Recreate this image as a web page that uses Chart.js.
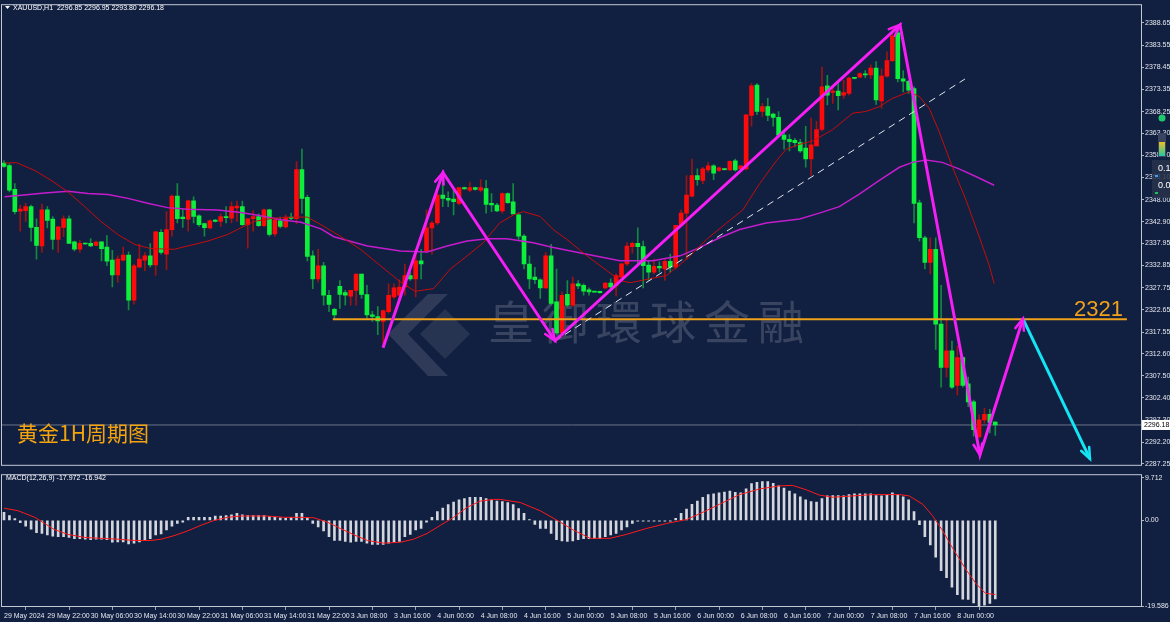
<!DOCTYPE html>
<html><head><meta charset="utf-8">
<script src="https://cdn.jsdelivr.net/npm/chart.js@4.4.1/dist/chart.umd.min.js"></script>
<style>
html,body{margin:0;padding:0;background:#111f41;width:1170px;height:622px;overflow:hidden;}
#c1{position:absolute;left:0;top:0;}
#c2{position:absolute;left:0;top:470px;}
</style></head><body>
<canvas id="c1" width="1170" height="470"></canvas>
<canvas id="c2" width="1170" height="152"></canvas>
<script>
// ---------- DATA ----------
const symbolName = 'XAUUSD,H1';
const candleOpen = [2356.44,2355.83,2350.40,2345.35,2345.49,2346.40,2341.64,2337.34,2345.65,2343.54,2338.86,2341.64,2343.61,2338.33,2336.59,2337.88,2337.95,2337.50,2338.33,2337.11,2334.10,2330.71,2334.10,2335.23,2324.89,2332.45,2334.10,2335.08,2332.97,2340.51,2335.46,2341.12,2348.81,2343.99,2343.54,2347.75,2344.29,2342.48,2341.50,2343.31,2343.00,2344.13,2343.77,2346.10,2346.40,2342.25,2343.61,2344.13,2342.02,2345.65,2340.15,2343.16,2341.73,2343.99,2343.61,2354.93,2348.52,2335.08,2329.80,2332.81,2326.02,2322.79,2328.06,2326.63,2325.80,2327.15,2330.86,2326.18,2321.50,2321.13,2320.00,2322.26,2325.66,2326.02,2327.92,2330.55,2329.80,2333.94,2336.21,2341.50,2342.64,2349.04,2348.30,2348.14,2347.16,2350.78,2350.17,2350.78,2350.17,2350.56,2347.16,2346.78,2345.42,2349.43,2347.53,2344.52,2339.60,2333.20,2330.19,2329.58,2327.70,2335.08,2324.52,2317.35,2326.25,2323.76,2328.67,2328.29,2327.24,2326.85,2326.93,2327.70,2328.83,2328.15,2330.19,2333.20,2337.20,2337.95,2337.20,2332.97,2331.32,2332.67,2332.06,2333.81,2332.45,2342.09,2344.90,2348.81,2353.57,2352.44,2354.86,2355.76,2354.70,2355.10,2354.86,2356.96,2355.08,2355.08,2367.38,2374.33,2368.28,2369.41,2367.67,2366.92,2362.85,2361.88,2361.65,2361.11,2359.84,2357.35,2360.36,2364.14,2374.17,2372.65,2372.97,2372.06,2372.42,2376.00,2376.20,2376.95,2376.72,2378.24,2370.71,2376.43,2379.98,2386.39,2375.82,2375.23,2373.56,2347.30,2339.24,2333.58,2336.59,2319.39,2309.43,2313.21,2305.29,2311.69,2305.65,2301.51,2293.43,2297.37,2298.64,2296.85];
const candleHigh = [2357.00,2356.22,2351.69,2346.78,2347.16,2346.78,2343.61,2347.00,2346.40,2344.13,2341.73,2344.29,2344.29,2338.47,2338.63,2338.00,2339.08,2338.47,2338.33,2339.76,2336.37,2335.08,2337.11,2335.98,2333.20,2337.72,2335.85,2337.88,2340.73,2341.12,2345.26,2349.04,2351.69,2345.81,2347.91,2348.66,2344.52,2342.64,2343.38,2343.40,2344.74,2346.40,2347.53,2347.68,2347.68,2343.61,2345.49,2344.74,2345.87,2345.81,2343.61,2343.99,2344.52,2344.90,2356.74,2359.61,2349.04,2336.21,2336.59,2333.58,2327.15,2323.01,2329.42,2327.15,2327.15,2330.86,2330.86,2328.29,2322.33,2323.40,2322.63,2328.67,2328.67,2329.58,2333.20,2331.32,2336.59,2336.59,2345.65,2343.00,2349.79,2353.57,2349.79,2350.17,2350.78,2350.90,2352.05,2350.90,2352.60,2352.44,2349.43,2347.16,2349.56,2349.56,2351.69,2344.90,2339.99,2335.08,2332.45,2329.80,2335.85,2337.72,2332.06,2326.79,2329.42,2330.19,2329.42,2328.67,2327.70,2326.90,2327.00,2329.00,2329.80,2330.93,2333.27,2338.11,2338.24,2341.50,2338.47,2333.94,2334.33,2333.72,2334.33,2335.46,2342.09,2345.65,2353.57,2357.35,2355.08,2355.45,2356.58,2356.06,2355.50,2355.20,2356.96,2357.35,2355.90,2367.53,2374.69,2374.69,2370.16,2371.29,2367.90,2368.28,2363.75,2363.00,2362.10,2361.88,2364.89,2366.77,2366.02,2378.47,2376.59,2373.56,2374.69,2375.46,2376.20,2376.10,2377.20,2377.72,2378.99,2379.76,2378.08,2382.02,2387.14,2387.91,2377.72,2375.46,2373.94,2347.91,2339.60,2339.24,2339.24,2328.29,2320.75,2315.47,2314.34,2311.85,2307.17,2301.89,2298.50,2299.99,2299.77,2296.95];
const candleLow = [2355.40,2349.79,2344.74,2340.73,2343.00,2338.47,2334.33,2335.85,2341.50,2336.59,2335.85,2339.47,2337.95,2336.21,2335.85,2337.70,2337.20,2337.34,2333.94,2332.81,2327.92,2329.05,2333.94,2322.63,2323.98,2332.45,2331.68,2332.45,2330.55,2335.46,2331.91,2339.60,2342.64,2341.64,2340.73,2342.64,2341.87,2339.60,2341.28,2342.90,2341.87,2342.64,2342.64,2343.00,2342.09,2336.82,2340.73,2341.87,2341.73,2339.60,2339.60,2341.50,2341.50,2343.38,2342.41,2344.90,2333.94,2327.54,2329.05,2323.76,2322.26,2320.75,2323.01,2323.76,2323.76,2323.76,2325.27,2320.75,2320.00,2316.97,2314.71,2321.88,2325.27,2325.27,2326.02,2329.42,2325.66,2329.80,2335.85,2335.46,2342.25,2346.40,2346.40,2344.52,2346.78,2350.40,2349.79,2350.20,2349.79,2344.90,2345.26,2345.26,2344.90,2347.16,2344.74,2338.86,2332.06,2327.54,2328.67,2325.27,2327.54,2323.76,2316.97,2316.61,2323.40,2323.40,2327.54,2326.02,2326.02,2326.70,2326.50,2327.50,2327.54,2325.88,2329.80,2332.81,2335.69,2332.81,2327.70,2329.42,2330.93,2331.32,2329.42,2331.32,2332.06,2341.87,2334.33,2348.66,2351.31,2351.69,2354.32,2352.60,2354.50,2354.80,2354.70,2354.54,2354.86,2354.86,2364.89,2367.53,2367.15,2366.18,2364.89,2362.62,2359.61,2359.23,2360.13,2358.85,2355.45,2353.57,2360.36,2363.75,2369.80,2370.16,2368.67,2371.29,2372.06,2375.80,2376.00,2376.05,2375.82,2369.93,2369.03,2376.20,2379.76,2375.07,2372.81,2372.42,2342.64,2338.47,2332.06,2330.93,2313.57,2304.90,2307.17,2304.52,2303.03,2304.90,2300.38,2293.58,2293.20,2296.59,2294.33,2293.80];
const candleClose = [2355.67,2350.17,2345.26,2345.81,2346.40,2341.64,2337.50,2345.65,2343.22,2338.86,2341.73,2343.61,2337.95,2336.59,2337.95,2337.80,2337.34,2338.24,2336.75,2333.87,2330.71,2334.33,2335.23,2324.89,2332.81,2334.33,2335.08,2332.97,2340.60,2335.85,2341.12,2348.81,2343.61,2343.61,2347.75,2344.13,2342.25,2341.57,2343.16,2343.00,2344.13,2343.84,2346.40,2346.55,2342.25,2343.61,2344.13,2342.02,2345.65,2339.99,2343.38,2341.87,2343.99,2343.68,2354.93,2348.30,2334.94,2329.80,2332.81,2326.02,2323.92,2321.50,2326.18,2326.02,2327.15,2330.86,2326.18,2321.50,2321.13,2320.14,2322.49,2326.02,2327.70,2327.92,2330.55,2329.80,2333.94,2333.20,2341.50,2342.64,2349.04,2348.30,2347.91,2347.53,2350.78,2350.47,2350.78,2350.33,2350.78,2346.93,2346.78,2345.42,2349.43,2347.30,2344.74,2339.60,2333.20,2329.80,2329.58,2327.70,2335.08,2324.14,2317.35,2326.02,2323.76,2328.67,2328.15,2326.93,2326.79,2326.75,2326.63,2328.83,2327.92,2330.55,2333.27,2337.34,2337.95,2337.20,2332.81,2331.32,2332.67,2332.29,2333.81,2332.45,2342.09,2344.90,2349.04,2353.57,2352.60,2355.08,2355.76,2354.09,2355.31,2354.90,2356.80,2354.86,2355.76,2367.53,2374.17,2368.28,2369.41,2367.38,2366.92,2362.85,2361.88,2361.33,2361.11,2359.23,2357.35,2360.59,2364.14,2373.94,2372.06,2372.97,2371.90,2372.65,2375.98,2375.90,2377.00,2376.72,2378.24,2370.93,2376.43,2379.98,2385.64,2375.82,2375.23,2373.19,2347.16,2339.24,2333.58,2336.59,2319.39,2309.43,2313.21,2304.90,2311.69,2305.29,2301.51,2295.10,2297.37,2298.64,2296.76,2296.18];
// moving averages: [bar index, price]
const maFast = [[0.1,2356.44],[2.3,2356.51],[5.7,2354.70],[8.7,2352.44],[11.8,2349.79],[14.9,2346.40],[17.9,2343.00],[21.0,2339.99],[24.1,2337.72],[27.1,2336.75],[31.4,2336.59],[33.9,2337.34],[37.6,2338.47],[41.3,2339.99],[43.7,2341.50],[46.2,2343.00],[49.9,2343.77],[53.5,2343.99],[56.0,2343.99],[58.5,2342.25],[62.1,2339.60],[65.8,2336.59],[69.5,2332.81],[73.2,2329.05],[75.9,2326.93],[79.3,2327.54],[82.4,2332.06],[85.5,2335.08],[88.5,2338.11],[91.5,2342.64],[94.1,2344.52],[95.9,2345.26],[99.0,2344.13],[101.4,2341.12],[103.9,2338.86],[107.6,2335.08],[111.3,2331.68],[113.7,2329.42],[115.6,2328.90],[119.2,2329.80],[122.3,2330.55],[126.0,2334.33],[129.7,2338.86],[133.4,2342.64],[136.4,2345.65],[139.5,2351.69],[142.6,2356.96],[144.4,2359.61],[146.9,2360.74],[149.3,2361.49],[153.0,2364.14],[156.7,2367.90],[159.1,2368.28],[161.6,2369.41],[164.0,2371.29],[167.1,2372.81],[169.0,2371.68],[170.8,2369.03],[172.6,2363.75],[175.1,2355.45],[177.6,2347.91],[180.0,2339.60],[181.9,2332.81],[182.8,2328.67]];
const maSlow = [[0.1,2348.66],[3.2,2349.04],[7.5,2349.56],[11.8,2349.95],[15.5,2349.43],[19.2,2349.20],[22.9,2348.30],[26.5,2347.16],[30.2,2346.17],[33.9,2345.81],[39.4,2345.65],[43.7,2345.04],[47.4,2344.29],[51.1,2343.38],[54.8,2342.82],[58.5,2341.28],[60.9,2339.47],[67.1,2337.34],[73.2,2336.21],[78.1,2335.98],[81.8,2337.34],[85.5,2338.47],[89.2,2339.01],[92.8,2339.01],[97.7,2338.11],[101.4,2336.98],[107.6,2335.46],[113.7,2333.94],[119.8,2333.94],[124.8,2335.08],[128.4,2336.98],[132.1,2339.24],[135.8,2341.12],[140.7,2342.64],[146.9,2343.54],[150.5,2344.90],[154.2,2346.40],[157.9,2349.27],[161.6,2352.44],[165.3,2355.45],[167.7,2356.58],[170.2,2357.12],[173.2,2356.58],[176.3,2355.09],[179.4,2353.34],[182.8,2351.31]];
// drawn analysis: zigzag arrows, projection, trend line, level
const zigzagPath = [[69.97,2313.96],[81.04,2354.25],[101.72,2315.54],[165.41,2388.20],[180.17,2289.29],[188.11,2320.6]];
const projectionPath = [[188.11,2320.6],[200.48,2288.38]];
const trendPath = [[101.72,2315.54],[177.4,2375.75]];
const levelSpan = [60.7,207.3];
const levelPrice = 2320.5;
const levelLabel = '2321';
const chartTitle = '黄金1H周期图';
const watermarkText = '皇御環球金融';
// MACD
const macdHist = [1.85,1.1,0.4,-0.5,-1.3,-2.0,-2.8,-3.0,-3.3,-3.6,-3.7,-3.7,-3.9,-4.2,-4.2,-4.3,-4.4,-4.3,-4.3,-4.4,-5.0,-4.9,-4.9,-5.4,-5.2,-4.9,-4.6,-4.2,-3.3,-3.1,-2.2,-1.3,-0.7,-0.4,0.7,0.7,0.7,0.7,0.7,1.0,1.0,1.1,1.3,1.6,1.3,1.1,1.1,1.1,1.1,0.9,0.7,0.6,0.5,0.7,1.6,1.6,0.7,-0.7,-1.5,-2.4,-3.7,-4.6,-4.6,-4.8,-5.0,-4.8,-4.8,-5.2,-5.5,-5.5,-5.5,-5.2,-5.0,-4.8,-3.7,-3.2,-2.2,-1.85,-0.4,0.7,2.0,2.8,3.6,4.2,4.7,5.0,5.3,5.3,5.3,5.0,4.7,4.4,4.3,4.1,3.6,2.7,1.6,0.2,-0.9,-1.85,-1.85,-3.0,-4.4,-4.7,-4.8,-4.7,-4.4,-4.2,-4.2,-4.2,-4.1,-3.7,-3.3,-3.0,-2.2,-1.5,-0.7,-0.2,-0.2,-0.2,-0.2,-0.2,-0.2,-0.2,0.5,1.6,2.6,3.7,4.4,5.3,5.9,6.1,6.3,6.5,6.7,6.4,6.3,7.2,8.4,8.7,8.9,8.9,8.5,7.9,7.4,6.7,6.1,5.4,4.7,4.3,4.2,5.0,5.6,5.7,5.7,5.6,5.9,6.1,6.1,6.1,6.1,5.7,5.6,5.8,6.3,5.9,5.4,4.7,2.0,-1.0,-3.7,-5.6,-8.4,-11.5,-13.1,-15.3,-17.0,-18.0,-18.1,-18.9,-19.586,-19.4,-19.0,-17.972];
const macdSignal = [[0,2.8],[2.6,2.2],[5.7,0.7],[7.5,-0.7],[9.3,-2.1],[11.8,-3.2],[14.9,-3.9],[17.9,-4.1],[21.0,-4.3],[24.1,-4.6],[27.1,-4.6],[29.0,-4.3],[31.4,-3.5],[33.9,-2.4],[36.4,-1.1],[38.8,0.0],[41.3,0.7],[43.7,1.0],[48.6,1.0],[51.7,0.7],[54.8,0.7],[57.2,0.6],[59.7,-0.4],[62.1,-1.85],[64.6,-3.3],[67.1,-4.6],[70.1,-5.2],[73.2,-5.0],[75.6,-4.3],[78.1,-3.0],[80.6,-1.1],[83.0,0.7],[85.5,3.0],[87.9,4.4],[90.4,4.8],[91.6,4.8],[95.3,4.1],[99.0,2.2],[102.7,-0.4],[105.1,-2.2],[108.2,-4.1],[111.9,-4.1],[114.9,-3.2],[118.6,-1.85],[122.3,-0.7],[126.0,0.2],[128.4,1.5],[132.1,3.7],[135.8,5.9],[139.5,7.2],[143.2,7.9],[145.6,8.0],[148.1,7.0],[150.5,5.8],[153.0,5.3],[156.7,5.6],[160.3,5.9],[165.3,5.9],[167.1,5.6],[169.6,3.7],[171.4,1.1],[173.2,-2.2],[175.1,-6.3],[177.5,-11.1],[179.4,-14.4],[181.2,-16.7],[183,-16.942]];
// axes
const priceTicks = [2388.65,2383.55,2378.45,2373.35,2368.25,2363.30,2358.20,2353.10,2348.00,2342.90,2337.95,2332.85,2327.75,2322.65,2317.55,2312.60,2307.50,2302.40,2297.30,2292.20,2287.25];
const priceRange = [2287.02, 2392.73];
const macdTicks = [9.712, 0, -19.586];
const macdTickLabels = ['9.712','0.00','-19.586'];
const macdRange = [-19.586, 10.34];
const timeTickIndex = [0,8,16,24,32,40,48,56,64,72,80,88,96,104,112,120,128,136,144,152,160,168,176];
const timeTickLabels = ['29 May 2024','29 May 22:00','30 May 06:00','30 May 14:00','30 May 22:00','31 May 06:00','31 May 14:00','31 May 22:00','3 Jun 08:00','3 Jun 16:00','4 Jun 00:00','4 Jun 08:00','4 Jun 16:00','5 Jun 00:00','5 Jun 08:00','5 Jun 16:00','6 Jun 00:00','6 Jun 08:00','6 Jun 16:00','7 Jun 00:00','7 Jun 08:00','7 Jun 16:00','8 Jun 00:00'];
const barRange = [-0.37, 209.9];

// ---------- STYLE ----------
const UP = '#ff0a0a', DOWN = '#0cf03c';
const UPW = '#9a1414', DOWNW = '#138a40';
const MAG = '#f51ef5', CYAN = '#14e4f4', ORANGE = '#f0a21a';
const SMALL = "'Liberation Sans',sans-serif";
const AXFONT = {family: SMALL, size: 7};
Chart.defaults.animation = false;
Chart.defaults.responsive = false;
Chart.defaults.devicePixelRatio = 1;
Chart.defaults.plugins.legend.display = false;
Chart.defaults.plugins.tooltip.enabled = false;

const idx = candleOpen.map((_, i) => i);
const isUp = idx.map(i => candleClose[i] >= candleOpen[i]);
const pts = arr => arr.map(p => ({x: p[0], y: p[1]}));
const last = candleOpen.length - 1;

function arrowHead(c, x0, y0, x1, y1, color) {
  const a = Math.atan2(y1 - y0, x1 - x0), L = 12, s = 0.38;
  c.save(); c.strokeStyle = color; c.lineWidth = 2.5; c.lineCap = 'round';
  c.beginPath();
  c.moveTo(x1 - L * Math.cos(a - s), y1 - L * Math.sin(a - s)); c.lineTo(x1, y1);
  c.lineTo(x1 - L * Math.cos(a + s), y1 - L * Math.sin(a + s));
  c.stroke(); c.restore();
}

const mainDeco = {
  id: 'mainDeco',
  beforeDatasetsDraw(chart) {
    const c = chart.ctx;
    c.save();
    // watermark logo
    c.fillStyle = 'rgba(150,155,170,0.22)';
    c.beginPath(); c.moveTo(388,334); c.lineTo(428,294); c.lineTo(448,294); c.lineTo(408,334); c.lineTo(448,376); c.lineTo(428,376); c.closePath(); c.fill();
    c.fillStyle = 'rgba(150,155,170,0.16)';
    c.beginPath(); c.moveTo(420,334); c.lineTo(445,309); c.lineTo(470,334); c.lineTo(445,359); c.closePath(); c.fill();
    c.fillStyle = 'rgba(150,155,170,0.30)';
    c.font = '46px "Noto Sans CJK TC"'; c.textBaseline = 'middle';
    [...watermarkText].forEach((ch, k) => c.fillText(ch, 488 + k * 54, 322));
    c.restore();
  },
  afterDatasetsDraw(chart) {
    const c = chart.ctx;
    chart.data.datasets.forEach((ds, di) => {
      if (!ds.arrows) return;
      const m = chart.getDatasetMeta(di).data;
      for (let k = 1; k < m.length; k++) arrowHead(c, m[k-1].x, m[k-1].y, m[k].x, m[k].y, ds.borderColor);
    });
  },
  afterDraw(chart) {
    const c = chart.ctx, a = chart.chartArea, ys = chart.scales.y, xs = chart.scales.x;
    c.save();
    c.strokeStyle = '#c3c8d3'; c.lineWidth = 1;
    c.strokeRect(a.left - 0.5, a.top - 0.5, a.right - a.left + 1, a.bottom - a.top + 1);
    // header
    c.fillStyle = '#ffffff';
    c.beginPath(); c.moveTo(5,6); c.lineTo(10,6); c.lineTo(7.5,9); c.closePath(); c.fill();
    c.font = "7px " + SMALL; c.textBaseline = 'middle';
    c.fillText(`${symbolName}  ${candleOpen[last].toFixed(2)} ${candleHigh[last].toFixed(2)} ${candleLow[last].toFixed(2)} ${candleClose[last].toFixed(2)}`, 13, 8);
    // level label
    c.fillStyle = ORANGE; c.font = "22px 'Liberation Sans',sans-serif"; c.textAlign = 'right'; c.textBaseline = 'alphabetic';
    c.fillText(levelLabel, xs.getPixelForValue(levelSpan[1]) - 4, ys.getPixelForValue(levelPrice) - 3);
    // chart caption
    c.textAlign = 'left'; c.fillStyle = '#f4a40e';
    c.font = "21px 'Noto Sans CJK SC',sans-serif";
    c.fillText(chartTitle, 17, 441);
    // current price box
    const py = ys.getPixelForValue(candleClose[last]);
    c.fillStyle = '#ffffff'; c.fillRect(a.right + 1, py - 5, 29, 10);
    c.fillStyle = '#000000'; c.font = "7px " + SMALL; c.textBaseline = 'middle';
    c.fillText(candleClose[last].toFixed(2), a.right + 3, py);
    // side widget
    c.fillStyle = 'rgba(40,50,75,0.85)'; c.fillRect(1152, 160, 18, 38);
    c.fillStyle = '#1fc86c'; c.beginPath(); c.arc(1162, 118, 3.5, 0, Math.PI * 2); c.fill();
    c.fillStyle = '#3a4460'; c.fillRect(1158, 133, 8, 24);
    const g = c.createLinearGradient(0, 142, 0, 156); g.addColorStop(0, '#f0c020'); g.addColorStop(1, '#20c8a0');
    c.fillStyle = g; c.fillRect(1159, 142, 6, 14);
    c.fillStyle = '#ffffff'; c.font = "9px " + SMALL;
    c.fillText('0.1', 1158, 169); c.fillText('0.0', 1158, 186);
    c.fillStyle = '#3aa0ff'; c.fillRect(1155, 175, 3, 2);
    c.fillStyle = '#22c05a'; c.fillRect(1155, 192, 3, 2);
    c.restore();
  }
};

const macdDeco = {
  id: 'macdDeco',
  afterDraw(chart) {
    const c = chart.ctx, a = chart.chartArea;
    c.save();
    c.strokeStyle = '#c3c8d3'; c.lineWidth = 1;
    c.strokeRect(a.left - 0.5, a.top - 0.5, a.right - a.left + 1, a.bottom - a.top + 1);
    c.fillStyle = '#ffffff'; c.font = "7px " + SMALL; c.textBaseline = 'middle';
    c.fillText(`MACD(12,26,9) ${macdHist[last].toFixed(3)} ${macdSignal[macdSignal.length-1][1].toFixed(3)}`, 6, 8);
    c.restore();
  }
};

const xScale = (show) => ({
  type: 'linear', min: barRange[0], max: barRange[1], offset: false, display: show,
  afterBuildTicks: s => { s.ticks = timeTickIndex.map(v => ({value: v})); },
  afterFit: s => { if (show) s.height = 16; },
  grid: {drawOnChartArea: false, drawTicks: true, tickLength: 4, color: '#9aa3b5'},
  border: {display: false},
  ticks: {autoSkip: false, maxRotation: 0, align: 'start', padding: 2, color: '#e4e7ee', font: AXFONT,
          callback: (v, i) => timeTickLabels[i]}
});

new Chart(document.getElementById('c1'), {
  type: 'bar',
  data: {datasets: [
    {type: 'line', data: pts(zigzagPath), borderColor: MAG, borderWidth: 3, pointRadius: 0, arrows: true, order: 0},
    {type: 'line', data: pts(projectionPath), borderColor: CYAN, borderWidth: 3, pointRadius: 0, arrows: true, order: 0},
    {type: 'line', data: pts(trendPath), borderColor: '#e4e7ee', borderWidth: 1, borderDash: [7,5], pointRadius: 0, order: 1},
    {type: 'line', data: [{x: levelSpan[0], y: levelPrice}, {x: levelSpan[1], y: levelPrice}], borderColor: ORANGE, borderWidth: 2, pointRadius: 0, order: 1},
    {type: 'line', data: pts(maFast), borderColor: '#c80c0c', borderWidth: 1, pointRadius: 0, order: 2},
    {type: 'line', data: pts(maSlow), borderColor: '#c41ccc', borderWidth: 1.5, pointRadius: 0, order: 2},
    {data: idx.map(i => ({x: i, y: [candleOpen[i], candleClose[i]]})), backgroundColor: isUp.map(u => u ? UP : DOWN), barThickness: 4, minBarLength: 1, grouped: false, order: 3},
    {data: idx.map(i => ({x: i, y: [candleLow[i], candleHigh[i]]})), backgroundColor: isUp.map(u => u ? UPW : DOWNW), barThickness: 1, grouped: false, order: 4},
    {type: 'line', data: [{x: barRange[0], y: candleClose[last]}, {x: barRange[1], y: candleClose[last]}], borderColor: '#6b7489', borderWidth: 1, pointRadius: 0, order: 5}
  ]},
  options: {
    layout: {padding: {left: 2, top: 2, right: 0, bottom: 1}},
    scales: {
      x: xScale(false),
      y: {position: 'right', min: priceRange[0], max: priceRange[1],
          afterBuildTicks: s => { s.ticks = priceTicks.map(v => ({value: v})); },
          afterFit: s => { s.width = 29; },
          grid: {drawOnChartArea: false, drawTicks: true, tickLength: 3, color: '#aab2c0'},
          border: {display: false},
          ticks: {autoSkip: false, padding: 1, color: '#e4e7ee', font: AXFONT, callback: v => v.toFixed(2)}}
    }
  },
  plugins: [mainDeco]
});

new Chart(document.getElementById('c2'), {
  type: 'bar',
  data: {datasets: [
    {type: 'line', data: pts(macdSignal), borderColor: '#ff1a1a', borderWidth: 1, pointRadius: 0, order: 0},
    {data: idx.map(i => ({x: i, y: macdHist[i]})), backgroundColor: '#d3d6dc', barThickness: 2, grouped: false, order: 1}
  ]},
  options: {
    layout: {padding: {left: 2, top: 2, right: 0, bottom: 0}},
    scales: {
      x: xScale(true),
      y: {position: 'right', min: macdRange[0], max: macdRange[1],
          afterBuildTicks: s => { s.ticks = macdTicks.map(v => ({value: v})); },
          afterFit: s => { s.width = 29; },
          grid: {drawOnChartArea: false, drawTicks: true, tickLength: 3, color: '#aab2c0'},
          border: {display: false},
          ticks: {autoSkip: false, padding: 1, color: '#e4e7ee', font: AXFONT, callback: (v, i) => macdTickLabels[i]}}
    }
  },
  plugins: [macdDeco]
});
</script></body></html>
